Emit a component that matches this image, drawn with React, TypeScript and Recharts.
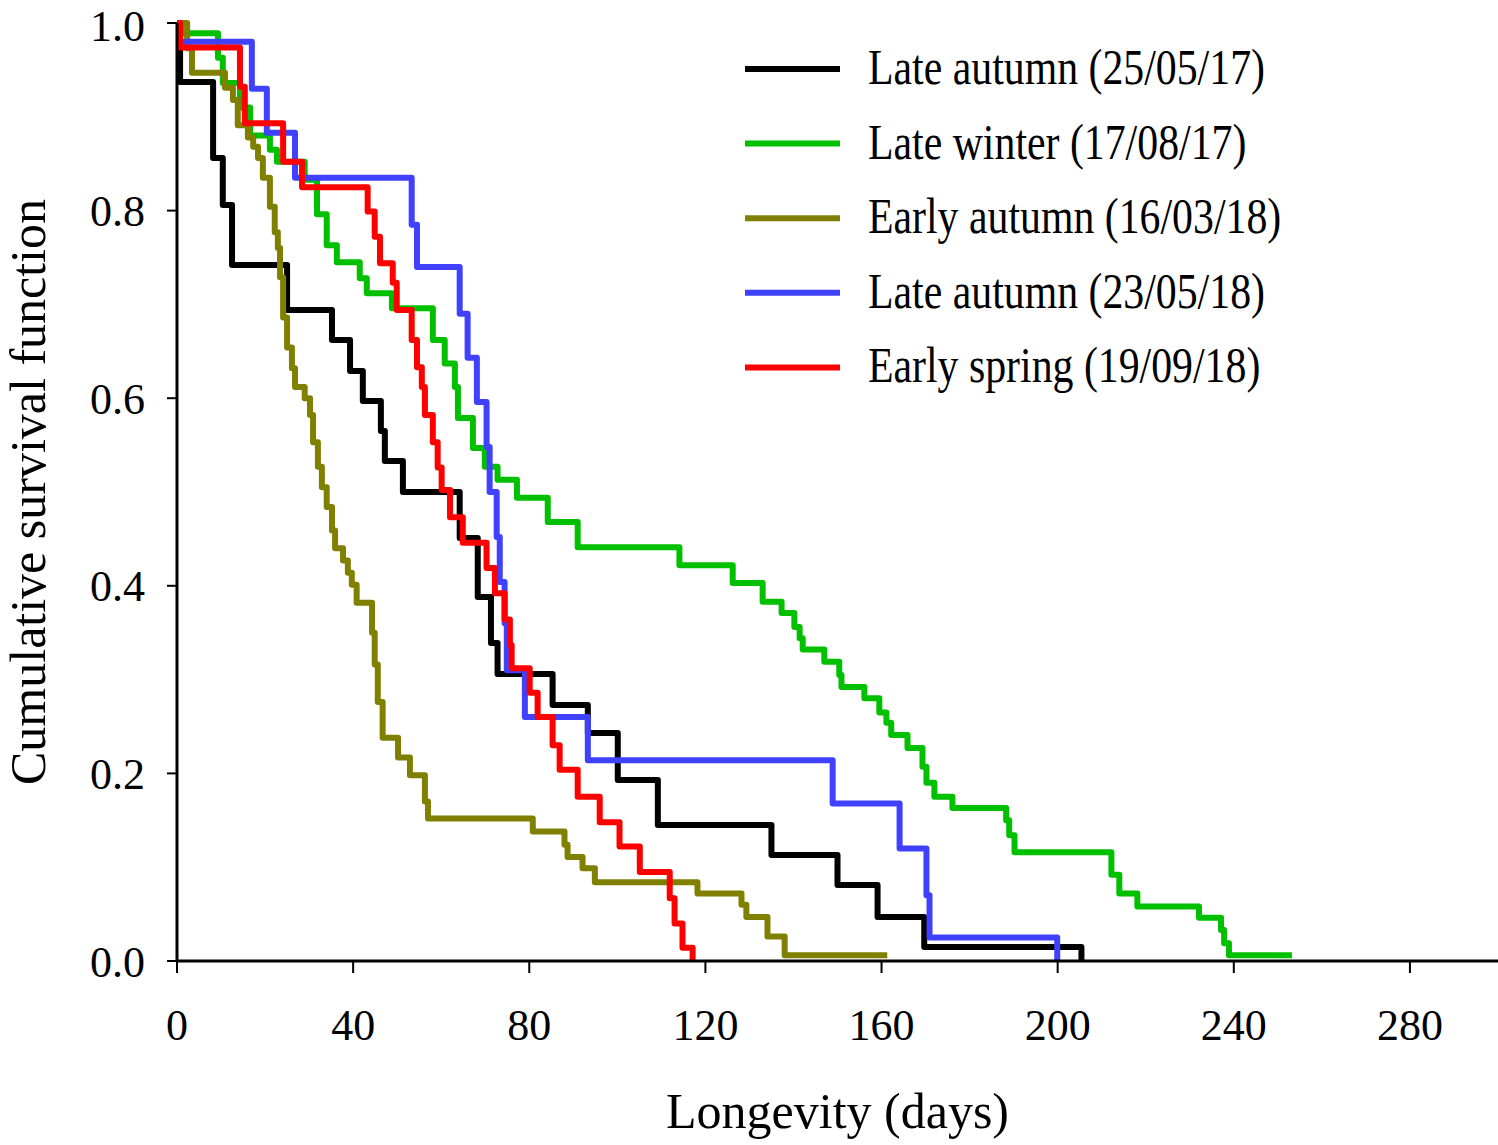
import { LineChart, Line, XAxis, YAxis, Legend, Label } from "recharts";

const FONT = '"Liberation Serif", "Times New Roman", serif';

const X_TICKS = [0, 40, 80, 120, 160, 200, 240, 280];
const Y_TICKS = [0, 0.2, 0.4, 0.6, 0.8, 1.0];

// Late autumn (25/05/17)
const la17Days = [0, 0.7, 8.2, 10.4, 12.5, 25.0, 35.2, 39.3, 42.2, 46.3, 47.2, 51.3, 64.2, 68.3, 71.3, 72.8, 85.3, 93.3, 100.1, 109.2, 135.0, 150.0, 159.1, 169.7, 205.4];
const la17Surv = [1.0, 0.937, 0.856, 0.806, 0.742, 0.694, 0.662, 0.629, 0.597, 0.565, 0.533, 0.5, 0.451, 0.388, 0.339, 0.306, 0.273, 0.243, 0.193, 0.145, 0.113, 0.081, 0.047, 0.015, 0.0];

// Late winter (17/08/17)
const lw17Days = [0, 1.0, 9.3, 10.4, 14.3, 16.6, 21.1, 22.7, 29.0, 31.8, 34.0, 36.3, 41.5, 43.1, 48.8, 58.1, 60.8, 63.1, 63.8, 67.2, 69.9, 72.8, 77.2, 84.2, 91.0, 114.1, 126.2, 133.0, 137.3, 140.2, 141.4, 142.1, 147.0, 150.4, 150.9, 156.1, 159.5, 161.1, 162.2, 165.9, 169.3, 170.2, 172.0, 176.1, 188.3, 189.0, 190.2, 212.2, 214.0, 218.1, 232.1, 237.1, 237.8, 238.9, 253.2];
const lw17Surv = [1.0, 0.989, 0.963, 0.936, 0.91, 0.88, 0.865, 0.852, 0.833, 0.796, 0.763, 0.745, 0.728, 0.712, 0.696, 0.662, 0.637, 0.612, 0.579, 0.547, 0.527, 0.513, 0.494, 0.468, 0.441, 0.422, 0.403, 0.383, 0.371, 0.356, 0.344, 0.332, 0.319, 0.305, 0.292, 0.28, 0.265, 0.254, 0.241, 0.227, 0.207, 0.19, 0.175, 0.163, 0.15, 0.134, 0.116, 0.092, 0.072, 0.058, 0.046, 0.033, 0.019, 0.006, 0.006];

// Early autumn (16/03/18)
const ea18Days = [0, 2.3, 3.4, 10.9, 12.7, 13.8, 16.1, 17.3, 18.4, 19.5, 21.1, 22.2, 22.9, 23.4, 24.1, 25.0, 26.1, 26.8, 29.0, 30.2, 30.9, 32.0, 32.9, 34.0, 35.2, 35.9, 37.7, 38.8, 39.7, 40.8, 44.3, 44.9, 45.6, 46.7, 50.2, 52.9, 56.3, 57.0, 80.8, 88.0, 88.7, 92.1, 94.9, 118.2, 128.2, 129.3, 134.1, 138.0, 161.3];
const ea18Surv = [1.0, 0.973, 0.947, 0.931, 0.918, 0.891, 0.878, 0.868, 0.856, 0.835, 0.804, 0.777, 0.76, 0.729, 0.686, 0.654, 0.632, 0.612, 0.6, 0.582, 0.553, 0.527, 0.505, 0.484, 0.459, 0.44, 0.427, 0.414, 0.401, 0.382, 0.35, 0.316, 0.276, 0.238, 0.217, 0.198, 0.17, 0.152, 0.138, 0.124, 0.111, 0.099, 0.084, 0.072, 0.06, 0.047, 0.026, 0.006, 0.006];

// Late autumn (23/05/18)
const la18Days = [0, 0.7, 17.0, 20.4, 26.8, 53.3, 54.5, 64.2, 66.0, 68.1, 70.3, 71.0, 72.6, 73.3, 74.4, 74.9, 79.0, 93.3, 148.9, 164.1, 170.2, 170.9, 199.9];
const la18Surv = [1.0, 0.98, 0.93, 0.883, 0.835, 0.785, 0.74, 0.69, 0.643, 0.596, 0.548, 0.5, 0.452, 0.404, 0.36, 0.31, 0.26, 0.214, 0.168, 0.12, 0.07, 0.025, 0.0];

// Early spring (19/09/18)
const es18Days = [0, 0.7, 14.3, 15.4, 24.1, 28.4, 43.3, 44.9, 46.1, 49.0, 49.9, 53.3, 54.5, 55.6, 56.3, 58.1, 59.2, 60.1, 62.0, 64.9, 70.3, 72.2, 74.4, 75.6, 76.0, 80.1, 81.9, 85.3, 86.9, 91.0, 96.0, 100.5, 105.1, 111.9, 113.0, 114.8, 117.1];
const es18Surv = [1.0, 0.974, 0.932, 0.893, 0.852, 0.825, 0.799, 0.772, 0.744, 0.723, 0.694, 0.662, 0.633, 0.612, 0.582, 0.553, 0.526, 0.502, 0.473, 0.446, 0.419, 0.392, 0.364, 0.337, 0.312, 0.286, 0.26, 0.23, 0.204, 0.175, 0.148, 0.122, 0.095, 0.067, 0.04, 0.014, 0.0];

const zip = (days: number[], surv: number[]) => days.map((d, i) => ({ day: d, s: surv[i] }));

const SERIES = [
  { id: "la17", name: "Late autumn (25/05/17)", color: "#000000", data: zip(la17Days, la17Surv) },
  { id: "lw17", name: "Late winter (17/08/17)", color: "#00c000", data: zip(lw17Days, lw17Surv) },
  { id: "ea18", name: "Early autumn (16/03/18)", color: "#808000", data: zip(ea18Days, ea18Surv) },
  { id: "la18", name: "Late autumn (23/05/18)", color: "#4040ff", data: zip(la18Days, la18Surv) },
  { id: "es18", name: "Early spring (19/09/18)", color: "#ff0000", data: zip(es18Days, es18Surv) },
];

const LEGEND_SCALE = 0.836;

function LegendBox() {
  return (
    <svg width={560} height={370} style={{ display: "block" }}>
      {SERIES.map((s, i) => {
        const cy = 39 + i * 74.6;
        return (
          <g key={s.id}>
            <line x1={0} x2={95} y1={cy} y2={cy} stroke={s.color} strokeWidth={6} />
            <text
              x={123 / LEGEND_SCALE}
              y={cy + 15}
              transform={`scale(${LEGEND_SCALE},1)`}
              fontSize={50}
              fontFamily={FONT}
              fill="#000"
            >
              {s.name}
            </text>
          </g>
        );
      })}
    </svg>
  );
}

function YTitle(props: any) {
  const vb = props.viewBox || { x: 0, y: 23, width: 177, height: 938 };
  const cx = vb.x + 45;
  const cy = vb.y + vb.height / 2;
  return (
    <text
      x={cx}
      y={cy}
      transform={`rotate(-90, ${cx}, ${cy})`}
      textAnchor="middle"
      fontSize={50}
      fontFamily={FONT}
      fill="#000"
    >
      Cumulative survival function
    </text>
  );
}

export default function App() {
  return (
    <div style={{ position: "absolute", left: 0, top: 0, background: "#fff" }}>
      <LineChart width={1498} height={1145} margin={{ top: 23, right: 0, bottom: 0, left: 0 }}>
        <XAxis
          type="number"
          dataKey="day"
          domain={[0, 300]}
          ticks={X_TICKS}
          allowDataOverflow
          height={184}
          tick={{ fontSize: 44, fill: "#000", fontFamily: FONT }}
          tickSize={12}
          tickMargin={36}
          axisLine={{ stroke: "#000", strokeWidth: 3 }}
          tickLine={{ stroke: "#000", strokeWidth: 2 }}
        >
          <Label
            value="Longevity (days)"
            position="insideBottom"
            offset={17}
            fontSize={50}
            fontFamily={FONT}
            fill="#000"
          />
        </XAxis>
        <YAxis
          type="number"
          domain={[0, 1]}
          ticks={Y_TICKS}
          width={177}
          tickFormatter={(v: number) => v.toFixed(1)}
          tick={{ fontSize: 44, fill: "#000", fontFamily: FONT }}
          tickSize={10}
          tickMargin={22}
          axisLine={{ stroke: "#000", strokeWidth: 3 }}
          tickLine={{ stroke: "#000", strokeWidth: 2 }}
        >
          <Label content={(p: any) => <YTitle {...p} />} />
        </YAxis>
        <Legend
          align="center"
          verticalAlign="middle"
          layout="vertical"
          content={() => <LegendBox />}
          wrapperStyle={{ left: 745, top: 30, width: 560 }}
        />
        {SERIES.map((s) => (
          <Line
            key={s.id}
            data={s.data}
            dataKey="s"
            name={s.name}
            type="stepAfter"
            stroke={s.color}
            strokeWidth={6}
            strokeLinejoin="round"
            dot={false}
            activeDot={false}
            isAnimationActive={false}
          />
        ))}
      </LineChart>
    </div>
  );
}
